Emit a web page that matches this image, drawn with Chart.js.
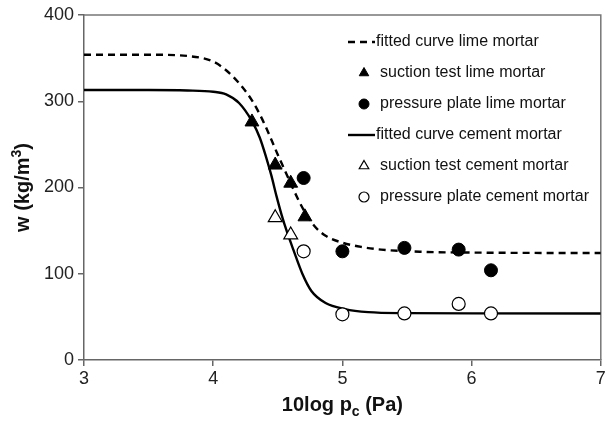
<!DOCTYPE html>
<html>
<head>
<meta charset="utf-8">
<script src="https://cdn.jsdelivr.net/npm/chart.js@4.4.1/dist/chart.umd.min.js"></script>
<style>
  html, body { margin: 0; padding: 0; background: #fff; }
  #wrap { width: 610px; height: 422px; }
</style>
</head>
<body>
<div id="wrap"><canvas id="chart" width="610" height="422"></canvas></div>
<script>
// fitted curves
const limeCurveX = [3, 3.5, 3.8, 4.0, 4.1, 4.2, 4.3, 4.38, 4.44, 4.5, 4.56, 4.62, 4.7, 4.78, 4.87, 5.0, 5.15, 5.3, 5.6, 6.05, 7];
const limeCurveW = [354, 354, 352.5, 346, 336, 321, 301, 279, 259, 238, 218, 198, 174, 156, 144, 136, 131, 128, 125.5, 124.5, 124];
const cementCurveX = [3, 3.5, 3.8, 4.0, 4.1, 4.2, 4.3, 4.36, 4.41, 4.45, 4.49, 4.53, 4.57, 4.62, 4.69, 4.76, 4.87, 5.02, 5.2, 5.5, 6, 7];
const cementCurveW = [313, 313, 312.5, 311, 308, 298, 277, 258, 235, 214, 190, 168, 149, 128, 100, 80, 66, 59, 55.5, 54.3, 54, 54];

// measured points
const suctionLimeX = [4.3, 4.48, 4.6, 4.71];
const suctionLimeW = [276, 226, 205, 166];
const plateLimeX = [4.7, 5.0, 5.48, 5.9, 6.15];
const plateLimeW = [211, 126, 130, 128, 104];
const suctionCementX = [4.48, 4.6];
const suctionCementW = [165, 145];
const plateCementX = [4.7, 5.0, 5.48, 5.9, 6.15];
const plateCementW = [126, 53, 54, 65, 54];

const xTicks = [3, 4, 5, 6, 7];
const yTicks = [0, 100, 200, 300, 400];

const toPts = (xs, ys) => xs.map((x, i) => ({ x: x, y: ys[i] }));

const datasets = [
  {
    label: "fitted curve lime mortar",
    data: toPts(limeCurveX, limeCurveW),
    showLine: true, borderColor: "#000", borderWidth: 2.4, borderDash: [7, 5],
    pointRadius: 0, cubicInterpolationMode: "monotone", order: 2
  },
  {
    label: "suction test lime mortar",
    data: toPts(suctionLimeX, suctionLimeW),
    pointStyle: "triangle", pointRadius: 8, backgroundColor: "#000", borderColor: "#000",
    borderWidth: 1, order: 1
  },
  {
    label: "pressure plate lime mortar",
    data: toPts(plateLimeX, plateLimeW),
    pointStyle: "circle", pointRadius: 6.5, backgroundColor: "#000", borderColor: "#000",
    borderWidth: 1, order: 1
  },
  {
    label: "fitted curve cement mortar",
    data: toPts(cementCurveX, cementCurveW),
    showLine: true, borderColor: "#000", borderWidth: 2.4,
    pointRadius: 0, cubicInterpolationMode: "monotone", order: 2
  },
  {
    label: "suction test cement mortar",
    data: toPts(suctionCementX, suctionCementW),
    pointStyle: "triangle", pointRadius: 8, backgroundColor: "#fff", borderColor: "#000",
    borderWidth: 1.2, order: 1
  },
  {
    label: "pressure plate cement mortar",
    data: toPts(plateCementX, plateCementW),
    pointStyle: "circle", pointRadius: 6.5, backgroundColor: "#fff", borderColor: "#000",
    borderWidth: 1.2, order: 1
  }
];

// legend inside the plot, top right
const legendBox = {
  id: "legendBox",
  afterDraw(chart) {
    const ctx = chart.ctx;
    ctx.save();
    ctx.font = "16px Arial, 'Liberation Sans', sans-serif";
    ctx.fillStyle = "#111";
    ctx.textBaseline = "middle";
    datasets.forEach((ds, i) => {
      const y = 42 + i * 31;
      if (ds.showLine) {
        ctx.beginPath();
        ctx.setLineDash(ds.borderDash || []);
        ctx.lineWidth = 2.4;
        ctx.strokeStyle = "#000";
        ctx.moveTo(348, y);
        ctx.lineTo(375, y);
        ctx.stroke();
        ctx.setLineDash([]);
        ctx.fillText(ds.label, 376, y);
      } else {
        ctx.fillStyle = ds.backgroundColor;
        ctx.strokeStyle = ds.borderColor;
        ctx.lineWidth = ds.borderWidth;
        Chart.helpers.drawPoint(ctx, { pointStyle: ds.pointStyle, radius: ds.pointStyle === "triangle" ? 5.5 : 5, rotation: 0, borderWidth: ds.borderWidth }, 364, y);
        ctx.fillStyle = "#111";
        ctx.fillText(ds.label, 380, y);
      }
    });
    ctx.restore();
  }
};

// frame and axis titles with sub/superscripts
const frameTitles = {
  id: "frameTitles",
  beforeDatasetsDraw(chart) {
    const a = chart.chartArea, ctx = chart.ctx;
    ctx.save();
    ctx.strokeStyle = "#777";
    ctx.lineWidth = 1.5;
    ctx.beginPath();
    ctx.moveTo(a.left, a.top);
    ctx.lineTo(a.right, a.top);
    ctx.lineTo(a.right, a.bottom);
    ctx.stroke();
    ctx.restore();
  },
  afterDraw(chart) {
    const a = chart.chartArea, ctx = chart.ctx;
    ctx.save();
    ctx.fillStyle = "#111";
    ctx.textBaseline = "alphabetic";
    const big = "bold 20px Arial, 'Liberation Sans', sans-serif";
    const small = "bold 14px Arial, 'Liberation Sans', sans-serif";

    // x title: 10log p_c (Pa)
    const p1 = "10log p", p2 = "c", p3 = " (Pa)";
    ctx.font = big; const w1 = ctx.measureText(p1).width, w3 = ctx.measureText(p3).width;
    ctx.font = small; const w2 = ctx.measureText(p2).width;
    let x = (a.left + a.right) / 2 - (w1 + w2 + w3) / 2;
    const by = 411;
    ctx.font = big; ctx.fillText(p1, x, by); x += w1;
    ctx.font = small; ctx.fillText(p2, x, by + 5); x += w2;
    ctx.font = big; ctx.fillText(p3, x, by);

    // y title: w (kg/m^3)
    ctx.translate(29, (a.top + a.bottom) / 2);
    ctx.rotate(-Math.PI / 2);
    const q1 = "w (kg/m", q2 = "3", q3 = ")";
    ctx.font = big; const v1 = ctx.measureText(q1).width, v3 = ctx.measureText(q3).width;
    ctx.font = small; const v2 = ctx.measureText(q2).width;
    let t = -(v1 + v2 + v3) / 2;
    ctx.font = big; ctx.fillText(q1, t, 0); t += v1;
    ctx.font = small; ctx.fillText(q2, t, -8); t += v2;
    ctx.font = big; ctx.fillText(q3, t, 0);
    ctx.restore();
  }
};

new Chart(document.getElementById("chart"), {
  type: "scatter",
  data: { datasets: datasets },
  options: {
    responsive: false,
    animation: false,
    devicePixelRatio: 1,
    layout: { padding: { top: 15, right: 6, left: 0, bottom: 0 } },
    plugins: { legend: { display: false }, tooltip: { enabled: false } },
    scales: {
      x: {
        type: "linear", min: 3, max: 7,
        afterFit: s => { s.height = 62; },
        afterBuildTicks: s => { s.ticks = xTicks.map(v => ({ value: v })); },
        grid: { drawOnChartArea: false, drawTicks: true, tickLength: 6, color: "#666", lineWidth: 1.5 },
        border: { color: "#666", width: 1.5 },
        ticks: { color: "#222", padding: 2, font: { size: 18, family: "Arial, 'Liberation Sans', sans-serif" } }
      },
      y: {
        type: "linear", min: 0, max: 400,
        afterFit: s => { s.width = 84; },
        afterBuildTicks: s => { s.ticks = yTicks.map(v => ({ value: v })); },
        grid: { drawOnChartArea: false, drawTicks: true, tickLength: 6, color: "#666", lineWidth: 1.5 },
        border: { color: "#666", width: 1.5 },
        ticks: { color: "#222", padding: 4, font: { size: 18, family: "Arial, 'Liberation Sans', sans-serif" } }
      }
    }
  },
  plugins: [legendBox, frameTitles]
});
</script>
</body>
</html>
